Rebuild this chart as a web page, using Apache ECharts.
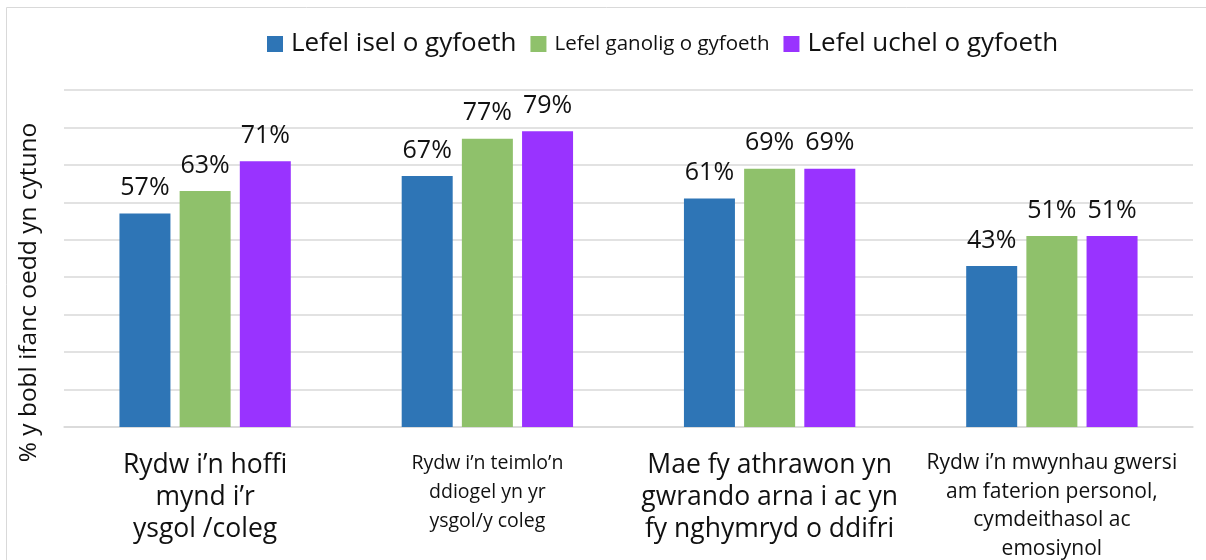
<!DOCTYPE html>
<html>
<head>
<meta charset="utf-8">
<script src="https://cdn.jsdelivr.net/npm/echarts@6/dist/echarts.min.js"></script>
<style>
  html, body { margin: 0; padding: 0; background: #fff; }
  #chart { width: 1206px; height: 560px; }
</style>
</head>
<body>
<div id="chart"></div>
<script>
// data
const categories = [
  'Rydw i’n hoffi\nmynd i’r\nysgol /coleg',
  'Rydw i’n teimlo’n\nddiogel yn yr\nysgol/y coleg',
  'Mae fy athrawon yn\ngwrando arna i ac yn\nfy nghymryd o ddifri',
  'Rydw i’n mwynhau gwersi\nam faterion personol,\ncymdeithasol ac\nemosiynol'
];
const seriesNames = ['Lefel isel o gyfoeth', 'Lefel ganolig o gyfoeth', 'Lefel uchel o gyfoeth'];
const lowWealth = [57, 67, 61, 43];
const midWealth = [63, 77, 69, 51];
const highWealth = [71, 79, 69, 51];
const colors = ['#2E75B6', '#8FC16B', '#9933FF'];

const FONT = "'Open Sans', sans-serif";
const labelStyles = ['b', 's1', 'b', 's3'];

const chart = echarts.init(document.getElementById('chart'));

function makeSeries(name, data, color) {
  return {
    name: name,
    type: 'bar',
    data: data,
    barWidth: 51,
    barGap: '18%',
    itemStyle: { color: color },
    label: {
      show: true,
      position: 'top',
      distance: 13,
      formatter: '{c}%',
      fontFamily: FONT,
      fontSize: 25,
      color: '#111'
    }
  };
}

const option = {
  animation: false,
  textStyle: { fontFamily: FONT },
  graphic: [{
    type: 'rect',
    shape: { x: 6.5, y: 7.5, width: 1220, height: 600 },
    style: { fill: 'none', stroke: '#D9D9D9', lineWidth: 1 },
    silent: true
  }],
  legend: {
    top: 26,
    left: 262,
    itemWidth: 16,
    itemHeight: 16,
    itemGap: 14,
    icon: 'rect',
    data: seriesNames,
    formatter: function (name) {
      return name === seriesNames[1] ? '{s|' + name + '}' : '{b|' + name + '}';
    },
    textStyle: {
      color: '#111',
      fontFamily: FONT,
      rich: {
        b: { fontSize: 26, fontFamily: FONT, color: '#111', padding: [0, 0, 0, 3] },
        s: { fontSize: 20.5, fontFamily: FONT, color: '#111', padding: [0, 0, 0, 3] }
      }
    }
  },
  grid: { left: 64, right: 13, top: 90, bottom: 133, containLabel: false },
  xAxis: {
    type: 'category',
    data: categories,
    axisLine: { lineStyle: { color: '#D9D9D9', width: 1.5 } },
    axisTick: { show: false },
    axisLabel: {
      interval: 0,
      margin: 22,
      color: '#111',
      formatter: function (value, index) {
        const st = labelStyles[index];
        return value.split('\n').map(function (l) {
          return '{' + st + '|' + l + '}';
        }).join('\n');
      },
      rich: {
        b: { fontSize: 26.5, lineHeight: 32, fontFamily: FONT, color: '#111' },
        s1: { fontSize: 19.5, lineHeight: 29, fontFamily: FONT, color: '#111' },
        s3: { fontSize: 21, lineHeight: 28.5, fontFamily: FONT, color: '#111' }
      }
    }
  },
  yAxis: {
    type: 'value',
    min: 0,
    max: 90,
    interval: 10,
    name: '% y bobl ifanc oedd yn cytuno',
    nameLocation: 'middle',
    nameRotate: 90,
    nameGap: 22,
    nameTextStyle: {
      fontSize: 24.5,
      color: '#111',
      fontFamily: FONT,
      padding: [0, 68, 0, 0]
    },
    axisLabel: { show: false },
    axisTick: { show: false },
    axisLine: { show: false },
    splitLine: { lineStyle: { color: '#D9D9D9', width: 1.5 } }
  },
  series: [
    makeSeries(seriesNames[0], lowWealth, colors[0]),
    makeSeries(seriesNames[1], midWealth, colors[1]),
    makeSeries(seriesNames[2], highWealth, colors[2])
  ]
};

chart.setOption(option);
</script>
</body>
</html>
